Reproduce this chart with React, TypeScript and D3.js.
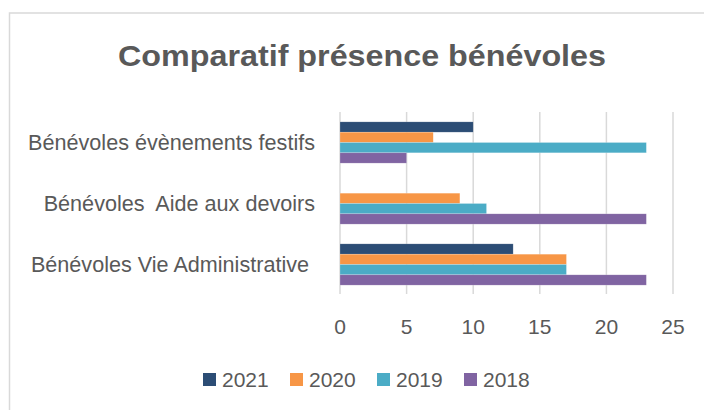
import React from "react";
import * as d3 from "d3";

const categories = [
  "Bénévoles évènements festifs",
  "Bénévoles  Aide aux devoirs",
  "Bénévoles Vie Administrative ",
];
const seriesNames = ["2021", "2020", "2019", "2018"];
const values2021 = [10, 0, 13];
const values2020 = [7, 9, 17];
const values2019 = [23, 11, 17];
const values2018 = [5, 23, 23];
const seriesValues = [values2021, values2020, values2019, values2018];
const colors = ["#2C4D75", "#F79646", "#4BACC6", "#8064A2"];
const xTicks = [0, 5, 10, 15, 20, 25];
const title = "Comparatif présence bénévoles";

const W = 704;
const H = 410;
const FONT = "'Liberation Sans', Arial, sans-serif";
const TEXT = "#595959";

export default function App() {
  const x = d3.scaleLinear().domain([0, 25]).range([340, 673]);
  const y = d3
    .scaleBand<string>()
    .domain(categories)
    .range([112, 295])
    .paddingInner(0.323)
    .paddingOuter(0.1615);
  const inner = d3
    .scaleBand<string>()
    .domain(seriesNames)
    .range([0, y.bandwidth()]);

  return (
    <svg
      width={W}
      height={H}
      style={{ position: "absolute", left: 0, top: 0, background: "#fff" }}
      fontFamily={FONT}
    >
      <rect x={0} y={0} width={W} height={H} fill="#fff" />
      <rect
        x={9.5}
        y={13}
        width={W + 10}
        height={H + 10}
        fill="none"
        stroke="#D9D9D9"
        strokeWidth={1.5}
      />
      <text
        x={362}
        y={66}
        textAnchor="middle"
        fontSize={29.5}
        fontWeight="bold"
        fill={TEXT}
        textLength={488}
        lengthAdjust="spacingAndGlyphs"
      >
        {title}
      </text>
      {xTicks.map((t) => (
        <line
          key={"g" + t}
          x1={x(t)}
          x2={x(t)}
          y1={112}
          y2={294}
          stroke="#D9D9D9"
          strokeWidth={1.5}
        />
      ))}
      {categories.map((c, ci) =>
        seriesNames.map((s, si) => {
          const v = seriesValues[si][ci];
          if (!v) return null;
          return (
            <rect
              key={c + s}
              x={x(0)}
              y={(y(c) ?? 0) + (inner(s) ?? 0)}
              width={x(v) - x(0)}
              height={inner.bandwidth()}
              fill={colors[si]}
              stroke="#ffffff"
              strokeOpacity={0.4}
              strokeWidth={0.5}
            />
          );
        })
      )}
      {categories.map((c) => (
        <text
          key={"l" + c}
          x={315}
          y={(y(c) ?? 0) + y.bandwidth() / 2 + 7.5}
          textAnchor="end"
          fontSize={21.6}
          fill={TEXT}
          style={{ whiteSpace: "pre" }}
        >
          {c}
        </text>
      ))}
      {xTicks.map((t) => (
        <text
          key={"t" + t}
          x={x(t)}
          y={333.5}
          textAnchor="middle"
          fontSize={21}
          fill={TEXT}
        >
          {t}
        </text>
      ))}
      {seriesNames.map((s, i) => (
        <g key={"lg" + s} transform={`translate(${203 + i * 87},0)`}>
          <rect x={0} y={373} width={13} height={13} fill={colors[i]} />
          <text x={19} y={387} fontSize={21} fill={TEXT}>
            {s}
          </text>
        </g>
      ))}
    </svg>
  );
}
